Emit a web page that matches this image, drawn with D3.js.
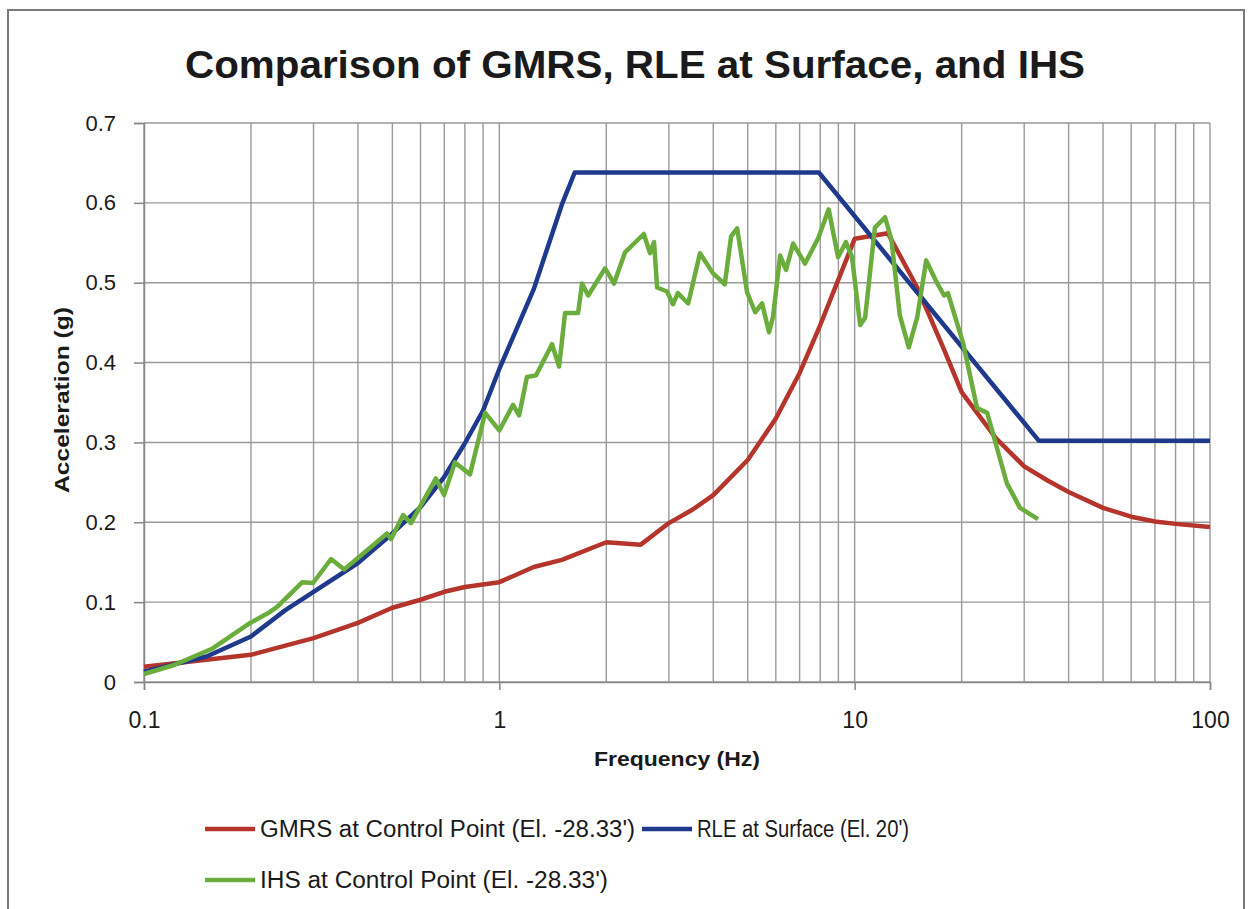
<!DOCTYPE html>
<html>
<head>
<meta charset="utf-8">
<script src="https://cdn.jsdelivr.net/npm/d3@7"></script>
<style>
  body { margin: 0; background: #fff; }
  text { font-family: "Liberation Sans", Arial, sans-serif; fill: #1a1a1a; }
</style>
</head>
<body>
<div id="chart"></div>
<script>
// values
const rleFreq = [0.1, 0.15, 0.2, 0.25, 0.3, 0.4, 0.5, 0.6, 0.7, 0.8, 0.9, 1.0, 1.25, 1.5, 1.63, 7.93, 33, 100]
const rleAcc  = [0.013, 0.032, 0.057, 0.09, 0.113, 0.149, 0.186, 0.219, 0.257, 0.299, 0.34, 0.392, 0.492, 0.598, 0.638, 0.638, 0.302, 0.302]

const gmrsFreq = [0.1, 0.2, 0.3, 0.4, 0.5, 0.6, 0.7, 0.8, 1.0, 1.25, 1.5, 2, 2.5, 3, 3.5, 4, 5, 6, 7, 8, 10, 12.4, 15, 17.7, 20, 25, 30, 35, 40, 50, 60, 70, 80, 100]
const gmrsAcc  = [0.019, 0.034, 0.055, 0.074, 0.093, 0.103, 0.113, 0.119, 0.125, 0.144, 0.153, 0.175, 0.172, 0.199, 0.216, 0.234, 0.278, 0.33, 0.387, 0.447, 0.555, 0.562, 0.494, 0.42, 0.363, 0.305, 0.27, 0.252, 0.238, 0.218, 0.207, 0.201, 0.198, 0.194]

const ihsFreq = [0.1, 0.121, 0.156, 0.199, 0.223, 0.237, 0.279, 0.299, 0.336, 0.366, 0.483, 0.496, 0.536, 0.564, 0.663, 0.699, 0.75, 0.827, 0.912, 1.0,
  1.093, 1.137, 1.196, 1.269, 1.407, 1.473, 1.531, 1.666, 1.709, 1.778, 1.984, 2.103, 2.258, 2.55, 2.655, 2.725, 2.78, 2.965, 3.08, 3.18,
  3.40, 3.67, 3.99, 4.31, 4.49, 4.67, 4.98, 5.25, 5.49, 5.74, 5.89, 6.17, 6.41, 6.71, 7.25, 7.9, 8.45, 8.98, 9.45, 9.83,
  10.36, 10.7, 11.4, 12.18, 12.7, 13.4, 14.2, 15.0, 15.9, 16.9, 17.85, 18.3, 20.2, 22.1, 23.6, 25.7, 26.8, 29.2, 32.8]
const ihsAcc = [0.010, 0.021, 0.042, 0.074, 0.086, 0.094, 0.125, 0.124, 0.154, 0.141, 0.186, 0.179, 0.209, 0.199, 0.255, 0.234, 0.275, 0.26, 0.337, 0.315,
  0.347, 0.334, 0.382, 0.384, 0.423, 0.395, 0.462, 0.462, 0.499, 0.484, 0.518, 0.499, 0.538, 0.561, 0.537, 0.551, 0.494, 0.489, 0.473, 0.487,
  0.474, 0.537, 0.512, 0.498, 0.558, 0.568, 0.488, 0.463, 0.474, 0.438, 0.457, 0.534, 0.516, 0.549, 0.524, 0.556, 0.592, 0.532, 0.551, 0.532,
  0.447, 0.456, 0.569, 0.582, 0.553, 0.459, 0.419, 0.457, 0.528, 0.503, 0.484, 0.487, 0.424, 0.343, 0.337, 0.278, 0.249, 0.218, 0.204]

const yTicks = [0, 0.1, 0.2, 0.3, 0.4, 0.5, 0.6, 0.7]
const xMajor = [0.1, 1, 10, 100]
const xLabels = ["0.1", "1", "10", "100"]

const series = [
  {name: "GMRS at Control Point (El. -28.33')", freq: gmrsFreq, acc: gmrsAcc, color: "#b5342b"},
  {name: "RLE at Surface (El. 20')", freq: rleFreq, acc: rleAcc, color: "#1f3a8c"},
  {name: "IHS at Control Point (El. -28.33')", freq: ihsFreq, acc: ihsAcc, color: "#6aad3d"}
]

const width = 1249
const height = 909
const plotLeft = 144, plotRight = 1210, plotTop = 123, plotBottom = 682

const svg = d3.select("#chart").append("svg")
    .attr("width", width)
    .attr("height", height)

// outer chart frame
svg.append("rect")
    .attr("x", 8).attr("y", 10)
    .attr("width", 1236).attr("height", 920)
    .attr("fill", "#fff")
    .attr("stroke", "#7a7a7a")
    .attr("stroke-width", 2)

const x = d3.scaleLog().domain([0.1, 100]).range([plotLeft, plotRight])
const y = d3.scaleLinear().domain([0, 0.7]).range([plotBottom, plotTop])

// all the log gridlines, 1..9 in every decade
const xGrid = []
for (let e = -1; e < 2; e++) {
  for (let m = 1; m < 10; m++) xGrid.push(m * Math.pow(10, e))
}
xGrid.push(100)

const grid = svg.append("g")
grid.selectAll(".vg")
    .data(xGrid)
    .join("line")
    .attr("x1", d => x(d)).attr("x2", d => x(d))
    .attr("y1", plotTop).attr("y2", plotBottom)
    .attr("stroke", "#9a9a9a")
    .attr("stroke-width", 1.4)

grid.selectAll(".hg")
    .data(yTicks)
    .join("line")
    .attr("x1", plotLeft).attr("x2", plotRight)
    .attr("y1", d => y(d)).attr("y2", d => y(d))
    .attr("stroke", "#9a9a9a")
    .attr("stroke-width", 1.4)

// axes
const yAxis = svg.append("g")
    .attr("transform", `translate(${plotLeft},0)`)
    .call(d3.axisLeft(y).tickValues(yTicks).tickSize(10).tickPadding(18)
      .tickFormat(d => d === 0 ? "0" : d3.format(".1f")(d)))
yAxis.select(".domain").attr("stroke", "#888").attr("stroke-width", 1.5)
yAxis.selectAll(".tick line").attr("stroke", "#888").attr("stroke-width", 1.5)
yAxis.selectAll("text").attr("font-size", 22).attr("fill", "#1a1a1a")

const xAxis = svg.append("g")
    .attr("transform", `translate(0,${plotBottom})`)
    .call(d3.axisBottom(x).tickValues(xMajor).tickSize(8).tickPadding(22)
      .tickFormat((d, i) => xLabels[i]))
xAxis.select(".domain").attr("stroke", "#888").attr("stroke-width", 1.5)
xAxis.selectAll(".tick line").attr("stroke", "#888").attr("stroke-width", 1.5)
xAxis.selectAll("text").attr("font-size", 23).attr("fill", "#1a1a1a")

// lines
const line = d3.line()
    .x(d => x(d[0]))
    .y(d => y(d[1]))

svg.append("g")
    .selectAll("path")
    .data(series)
    .join("path")
    .attr("d", s => line(s.freq.map((f, i) => [f, s.acc[i]])))
    .attr("fill", "none")
    .attr("stroke", s => s.color)
    .attr("stroke-width", 4.5)
    .attr("stroke-linejoin", "round")

// titles
svg.append("text")
    .attr("x", 635).attr("y", 78)
    .attr("text-anchor", "middle")
    .attr("font-size", 39)
    .attr("font-weight", "bold")
    .attr("textLength", 900)
    .attr("lengthAdjust", "spacingAndGlyphs")
    .text("Comparison of GMRS, RLE at Surface, and IHS")

svg.append("text")
    .attr("x", 677).attr("y", 766)
    .attr("text-anchor", "middle")
    .attr("font-size", 21)
    .attr("font-weight", "bold")
    .attr("textLength", 166)
    .attr("lengthAdjust", "spacingAndGlyphs")
    .text("Frequency (Hz)")

svg.append("text")
    .attr("transform", "translate(69,400) rotate(-90)")
    .attr("text-anchor", "middle")
    .attr("font-size", 20)
    .attr("font-weight", "bold")
    .attr("textLength", 186)
    .attr("lengthAdjust", "spacingAndGlyphs")
    .text("Acceleration (g)")

// legend
const legendPos = [
  {lx: 205, ty: 829, tw: 375},
  {lx: 642, ty: 829, tw: 212},
  {lx: 205, ty: 880, tw: 348}
]
const legend = svg.append("g")
    .selectAll("g")
    .data(series)
    .join("g")
    .attr("transform", (s, i) => `translate(${legendPos[i].lx},${legendPos[i].ty})`)

legend.append("line")
    .attr("x1", 0).attr("x2", 50)
    .attr("stroke", s => s.color)
    .attr("stroke-width", 4.5)

legend.append("text")
    .attr("x", 55).attr("y", 8)
    .attr("font-size", 23)
    .attr("textLength", (s, i) => legendPos[i].tw)
    .attr("lengthAdjust", "spacingAndGlyphs")
    .text(s => s.name)
</script>
</body>
</html>
